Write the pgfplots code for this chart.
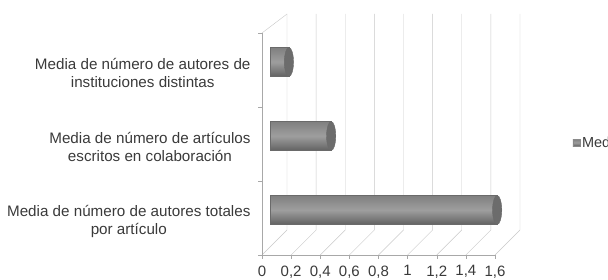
\documentclass[border=0pt]{standalone}
\usepackage{pgfplots}
\pgfplotsset{compat=1.18}
\usepackage{fontspec}
\setmainfont{Liberation Sans}
\usetikzlibrary{calc}
\definecolor{txt}{HTML}{3A3A3A}
\definecolor{gridc}{HTML}{C8C8C8}
\definecolor{axc}{HTML}{A8A8A8}
\definecolor{bartop}{HTML}{808080}
\definecolor{barlight}{HTML}{9E9E9E}
\definecolor{barbot}{HTML}{626262}
\definecolor{baredge}{HTML}{6A6A6A}
\definecolor{capc}{HTML}{6C6C6C}
\definecolor{legc}{HTML}{8A8A8A}
\pgfplotsset{cyl/.style={xbar, bar width=29pt, bar shift=0pt, draw=baredge, line width=0.4pt,
  top color=bartop, bottom color=barbot, middle color=barlight}}
\begin{document}
\begin{tikzpicture}[x=1pt,y=1pt]
\path[use as bounding box] (0,0) rectangle (608,-280);
\begin{axis}[
  scale only axis, width=233pt, height=222pt,
  at={(270pt,-247pt)}, anchor=south west,
  xmin=0, xmax=1.6, ymin=-0.5, ymax=2.5,
  axis line style={draw=none}, major tick length=0pt,
  xtick={0,0.2,0.4,0.6,0.8,1,1.2,1.4,1.6},
  ytick={0,1,2},
  yticklabels={{Media de número de autores totales\\por artículo},{Media de número de artículos\\escritos en colaboración},{Media de número de autores de\\instituciones distintas}},
  yticklabel style={align=center, font=\fontsize{15.2}{18}\selectfont, text=txt, xshift=-16pt, yshift=-11pt},
  xticklabel style={font=\fontsize{15}{16}\selectfont, text=txt, xshift=-8pt, yshift=-15pt},
  /pgf/number format/use comma,
  /pgf/number format/assume math mode=true,
  clip=false,
  legend style={at={(axis cs:1.975,0.91)}, anchor=west, xshift=15pt, draw=none, fill=none, inner sep=0pt, outer sep=0pt,
    font=\fontsize{14.5}{16}\selectfont, text=txt},
]
\pgfplotsinvokeforeach{0,0.2,0.4,0.6,0.8,1,1.2,1.4,1.6}{
  \draw[gridc] ($(axis cs:#1,-0.5)+(-8pt,-8pt)$) -- ($(axis cs:#1,-0.5)+(17pt,17pt)$) -- ($(axis cs:#1,2.5)+(17pt,11pt)$);
  \draw[axc] ($(axis cs:#1,-0.5)+(-8pt,-8pt)$) -- ++(0pt,-4pt);
}
\pgfplotsinvokeforeach{-0.5,0.5,1.5,2.5}{
  \draw[axc] ($(axis cs:0,#1)+(-8pt,-8pt)$) -- ++(-4pt,0pt);
}
\draw[gridc] ($(axis cs:0,2.5)+(-8pt,-8pt)$) -- ($(axis cs:0,2.5)+(17pt,11pt)$);
\draw[axc] ($(axis cs:0,2.5)+(-8pt,-8pt)$) -- ($(axis cs:0,-0.5)+(-8pt,-8pt)$) -- ($(axis cs:1.6,-0.5)+(-8pt,-8pt)$);
\addplot[cyl, legend image code/.code={\fill[legc] (0pt,-3.5pt) rectangle (7pt,3.5pt);}]
  coordinates {(1.56,0)};
\addlegendentry{Media}
\addplot[cyl, forget plot] coordinates {(0.42,1)};
\addplot[cyl, forget plot] coordinates {(0.13,2)};
\addplot[only marks, mark=*, mark size=14.5pt, forget plot,
  mark options={xscale=0.32, fill=capc, draw=baredge}]
  coordinates {(1.56,0) (0.42,1) (0.13,2)};
\end{axis}
\end{tikzpicture}
\end{document}
